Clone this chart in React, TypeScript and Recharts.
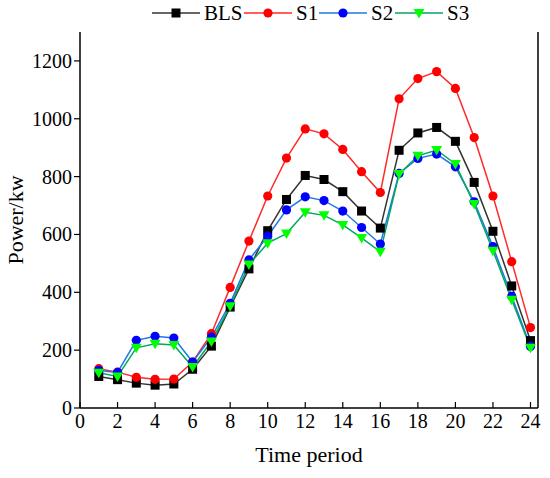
import React from 'react';
import { LineChart, Line, XAxis, YAxis } from 'recharts';

const periods = [1, 2, 3, 4, 5, 6, 7, 8, 9, 10, 11, 12, 13, 14, 15, 16, 17, 18, 19, 20, 21, 22, 23, 24];
const bls = [109, 98, 86, 79, 83, 134, 214, 349, 481, 613, 721, 804, 790, 748, 681, 622, 891, 951, 970, 922, 780, 611, 422, 233];
const s1 = [136, 124, 106, 99, 100, 159, 257, 417, 577, 733, 864, 965, 948, 894, 817, 745, 1069, 1139, 1163, 1105, 935, 733, 506, 278];
const s2 = [130, 123, 234, 248, 242, 159, 245, 362, 512, 594, 685, 730, 717, 681, 624, 567, 811, 863, 878, 834, 713, 558, 386, 213];
const s3 = [122, 109, 208, 222, 218, 142, 230, 352, 496, 570, 603, 677, 666, 633, 588, 540, 809, 872, 892, 844, 705, 544, 374, 208];
const xTicks = [0, 2, 4, 6, 8, 10, 12, 14, 16, 18, 20, 22, 24];
const yTicks = [0, 200, 400, 600, 800, 1000, 1200];

const data = periods.map((t, i) => ({ t, BLS: bls[i], S1: s1[i], S2: s2[i], S3: s3[i] }));

const FONT = "'Liberation Serif', 'Times New Roman', serif";

const Square = (p: any) => {
  const { cx, cy, fill } = p;
  if (cx == null || cy == null) return null;
  return <rect key={`sq-${p.index}`} x={cx - 4.5} y={cy - 4.5} width={9} height={9} fill={fill} />;
};
const makeCircle = (fill: string) => (p: any) => {
  const { cx, cy } = p;
  if (cx == null || cy == null) return null;
  return <circle key={`c-${fill}-${p.index}`} cx={cx} cy={cy} r={4.6} fill={fill} />;
};
const Tri = (p: any) => {
  const { cx, cy, fill } = p;
  if (cx == null || cy == null) return null;
  return <path key={`t-${p.index}`} d={`M${cx - 5.5},${cy - 4} L${cx + 5.5},${cy - 4} L${cx},${cy + 5.5} Z`} fill={fill} />;
};

const XTick = (p: any) => (
  <text x={p.x} y={p.y + 14} textAnchor="middle" fill="#000" style={{ fontFamily: FONT, fontSize: 20 }}>
    {p.payload.value}
  </text>
);
const YTick = (p: any) => (
  <text x={p.x} y={p.y + 7} textAnchor="end" fill="#000" style={{ fontFamily: FONT, fontSize: 20 }}>
    {p.payload.value}
  </text>
);

const txt = { fontFamily: FONT, fontSize: 21 };

const Legend = () => (
  <svg width={550} height={30} style={{ position: 'absolute', left: 0, top: 0 }}>
    <line x1={152} x2={200} y1={13} y2={13} stroke="#333" strokeWidth={1.5} />
    <rect x={171.5} y={8.5} width={9} height={9} fill="#000" />
    <text x={204} y={20} fill="#000" style={txt}>BLS</text>
    <line x1={244} x2={292} y1={13} y2={13} stroke="#ff2a2a" strokeWidth={1.5} />
    <circle cx={268} cy={13} r={4.6} fill="#ff0000" />
    <text x={296} y={20} fill="#000" style={txt}>S1</text>
    <line x1={319} x2={367} y1={13} y2={13} stroke="#1e78e6" strokeWidth={1.5} />
    <circle cx={343} cy={13} r={4.6} fill="#0000ff" />
    <text x={371} y={20} fill="#000" style={txt}>S2</text>
    <line x1={395} x2={443} y1={13} y2={13} stroke="#00a862" strokeWidth={1.5} />
    <path d="M413.5,9 L424.5,9 L419,18.5 Z" fill="#00ff00" />
    <text x={447} y={20} fill="#000" style={txt}>S3</text>
  </svg>
);

export default function App() {
  return (
    <div style={{ position: 'absolute', left: 0, top: 0, width: 550, height: 478, background: '#fff' }}>
      <LineChart width={550} height={478} data={data} margin={{ top: 32, right: 6, bottom: 0, left: 0 }}>
        <XAxis
          dataKey="t"
          type="number"
          domain={[0, 24.4]}
          ticks={xTicks}
          allowDataOverflow
          tickSize={-6}
          tickMargin={12}
          height={70}
          axisLine={{ stroke: '#000', strokeWidth: 1.5 }}
          tickLine={{ stroke: '#000', strokeWidth: 1.2 }}
          tick={XTick}
          label={{ value: 'Time period', position: 'insideBottom', offset: 16, fill: '#000', style: { fontFamily: FONT, fontSize: 22 } }}
        />
        <XAxis xAxisId="top" orientation="top" type="number" domain={[0, 24.4]} height={0} tick={false} tickLine={false} axisLine={{ stroke: '#000', strokeWidth: 1.5 }} />
        <YAxis
          type="number"
          domain={[0, 1300]}
          ticks={yTicks}
          width={80}
          tickSize={6}
          tickMargin={2}
          axisLine={{ stroke: '#000', strokeWidth: 1.5 }}
          tickLine={{ stroke: '#000', strokeWidth: 1.2 }}
          tick={YTick}
          label={{ value: 'Power/kw', angle: -90, position: 'insideLeft', offset: 15, textAnchor: 'middle', fill: '#000', style: { fontFamily: FONT, fontSize: 22 } }}
        />
        <YAxis yAxisId="right" orientation="right" width={6} domain={[0, 1300]} tick={false} tickLine={false} axisLine={{ stroke: '#000', strokeWidth: 1.5 }} />
        <Line dataKey="BLS" stroke="#333" strokeWidth={1.5} fill="#000" dot={Square} activeDot={false} isAnimationActive={false} />
        <Line dataKey="S1" stroke="#ff2a2a" strokeWidth={1.5} fill="#ff0000" dot={makeCircle('#ff0000')} activeDot={false} isAnimationActive={false} />
        <Line dataKey="S2" stroke="#1e78e6" strokeWidth={1.5} fill="#0000ff" dot={makeCircle('#0000ff')} activeDot={false} isAnimationActive={false} />
        <Line dataKey="S3" stroke="#00a862" strokeWidth={1.5} fill="#00ff00" dot={Tri} activeDot={false} isAnimationActive={false} />
      </LineChart>
      <Legend />
    </div>
  );
}
